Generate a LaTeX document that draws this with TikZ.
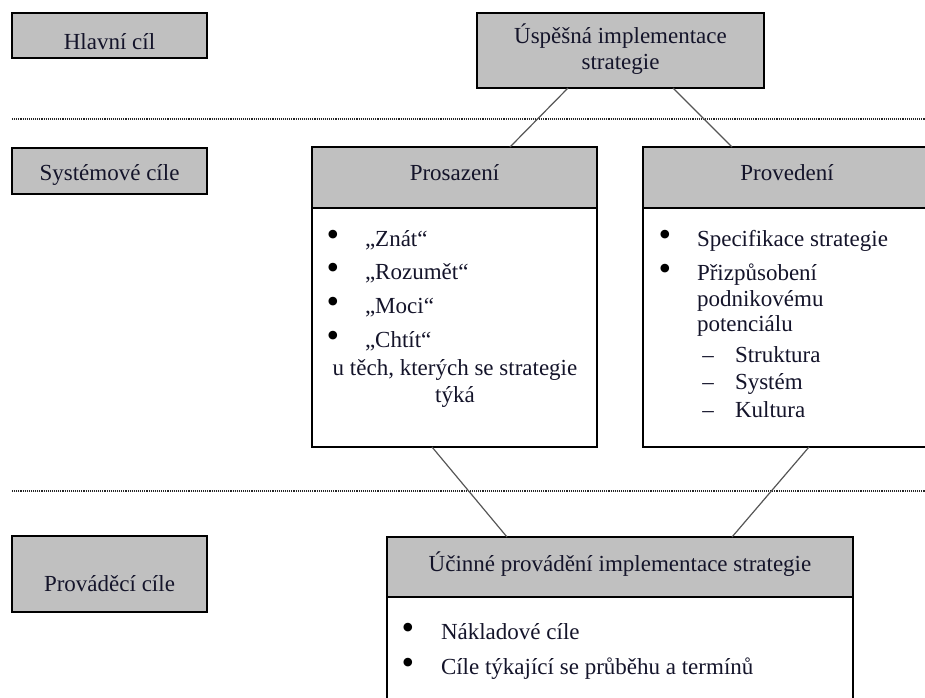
\documentclass[tikz,border=0pt]{standalone}
\usepackage{fontspec}
\setmainfont{Liberation Serif}
\definecolor{boxgray}{HTML}{C0C0C0}
\definecolor{txt}{HTML}{14142A}
\definecolor{connc}{HTML}{555555}
\begin{document}
\begin{tikzpicture}[x=1pt,y=-1pt,
  graybox/.style={draw=black, line width=1.3pt, fill=boxgray, inner sep=0pt, outer sep=0pt},
  whitebox/.style={draw=black, line width=1.3pt, fill=white, inner sep=0pt, outer sep=0pt},
  lbl/.style={font=\fontsize{23}{26}\selectfont, inner sep=0pt, outer sep=0pt, text=txt},
  bul/.style={font=\fontsize{36}{36}\selectfont, inner sep=0pt, outer sep=0pt, text=black},
  conn/.style={draw=connc, line width=1.2pt},
  sepline/.style={draw=black!85, line width=1.2pt, dash pattern=on 1.1pt off 1pt}]
\useasboundingbox (0,0) rectangle (925,697);

% separators
\coordinate (s1a) at (12,119);
\coordinate (s1b) at (925,119);
\coordinate (s2a) at (12,491);
\coordinate (s2b) at (925,491);
\draw[sepline] (s1a) -- (s1b);
\draw[sepline] (s2a) -- (s2b);

% left level boxes
\node[graybox, minimum width=195pt, minimum height=45pt] (hc) at (109.5,35.5) {};
\node[lbl, anchor=base] (hct) at (109.5,49) {Hlavní cíl};
\node[graybox, minimum width=195pt, minimum height=46pt] (sc) at (109.5,171) {};
\node[lbl, anchor=base] (sct) at (109.5,180) {Systémové cíle};
\node[graybox, minimum width=195pt, minimum height=76pt] (pc) at (109.5,574) {};
\node[lbl, anchor=base] (pct) at (109.5,591) {Prováděcí cíle};

% top box
\node[graybox, minimum width=287pt, minimum height=75pt] (usp) at (620.5,50.5) {};
\node[lbl, anchor=base] (uspt1) at (620.5,43) {Úspěšná implementace};
\node[lbl, anchor=base] (uspt2) at (620.5,69) {strategie};

% Prosazeni
\node[whitebox, minimum width=285pt, minimum height=239pt] (prosb) at (454.5,327.5) {};
\node[graybox, minimum width=285pt, minimum height=61pt] (prosh) at (454.5,177.5) {};
\node[lbl, anchor=base] (prosht) at (454.5,180) {Prosazení};
\node[bul, anchor=base] (pb1) at (333,246) {•};
\node[lbl, anchor=base west] (pi1) at (365,246) {„Znát“};
\node[bul, anchor=base] (pb2) at (333,279) {•};
\node[lbl, anchor=base west] (pi2) at (365,279) {„Rozumět“};
\node[bul, anchor=base] (pb3) at (333,313) {•};
\node[lbl, anchor=base west] (pi3) at (365,313) {„Moci“};
\node[bul, anchor=base] (pb4) at (333,347) {•};
\node[lbl, anchor=base west] (pi4) at (365,347) {„Chtít“};
\node[lbl, anchor=base] (pi5) at (455,375) {u těch, kterých se strategie};
\node[lbl, anchor=base] (pi6) at (455,402) {týká};

% Provedeni
\node[whitebox, minimum width=292pt, minimum height=239pt] (provb) at (789,327.5) {};
\node[graybox, minimum width=292pt, minimum height=61pt] (provh) at (789,177.5) {};
\node[lbl, anchor=base] (provht) at (787,180) {Provedení};
\node[bul, anchor=base] (vb1) at (665,246) {•};
\node[lbl, anchor=base west] (vi1) at (697,246) {Specifikace strategie};
\node[bul, anchor=base] (vb2) at (665,280) {•};
\node[lbl, anchor=base west] (vi2) at (697,280) {Přizpůsobení};
\node[lbl, anchor=base west] (vi3) at (697,306) {podnikovému};
\node[lbl, anchor=base west] (vi4) at (697,331) {potenciálu};
\node[lbl, anchor=base] (vd1) at (708,362) {–};
\node[lbl, anchor=base west] (vi5) at (735,362) {Struktura};
\node[lbl, anchor=base] (vd2) at (708,389) {–};
\node[lbl, anchor=base west] (vi6) at (735,389) {Systém};
\node[lbl, anchor=base] (vd3) at (708,417) {–};
\node[lbl, anchor=base west] (vi7) at (735,417) {Kultura};

% Ucinne provadeni
\node[whitebox, minimum width=466pt, minimum height=123pt] (ucinb) at (620,658.5) {};
\node[graybox, minimum width=466pt, minimum height=60pt] (ucinh) at (620,567) {};
\node[lbl, anchor=base] (ucinht) at (620,571) {Účinné provádění implementace strategie};
\node[bul, anchor=base] (ub1) at (408,639) {•};
\node[lbl, anchor=base west] (ui1) at (441,639) {Nákladové cíle};
\node[bul, anchor=base] (ub2) at (408,674) {•};
\node[lbl, anchor=base west] (ui2) at (441,674) {Cíle týkající se průběhu a termínů};

% connectors
\draw[conn] ([xshift=-52.5pt]usp.south) -- ([xshift=55.5pt]prosh.north);
\draw[conn] ([xshift=52.5pt]usp.south) -- ([xshift=-57pt]provh.north);
\draw[conn] ([xshift=-22.5pt]prosb.south) -- ([xshift=-113pt]ucinh.north);
\draw[conn] ([xshift=20pt]provb.south) -- ([xshift=112pt]ucinh.north);
\end{tikzpicture}
\end{document}
